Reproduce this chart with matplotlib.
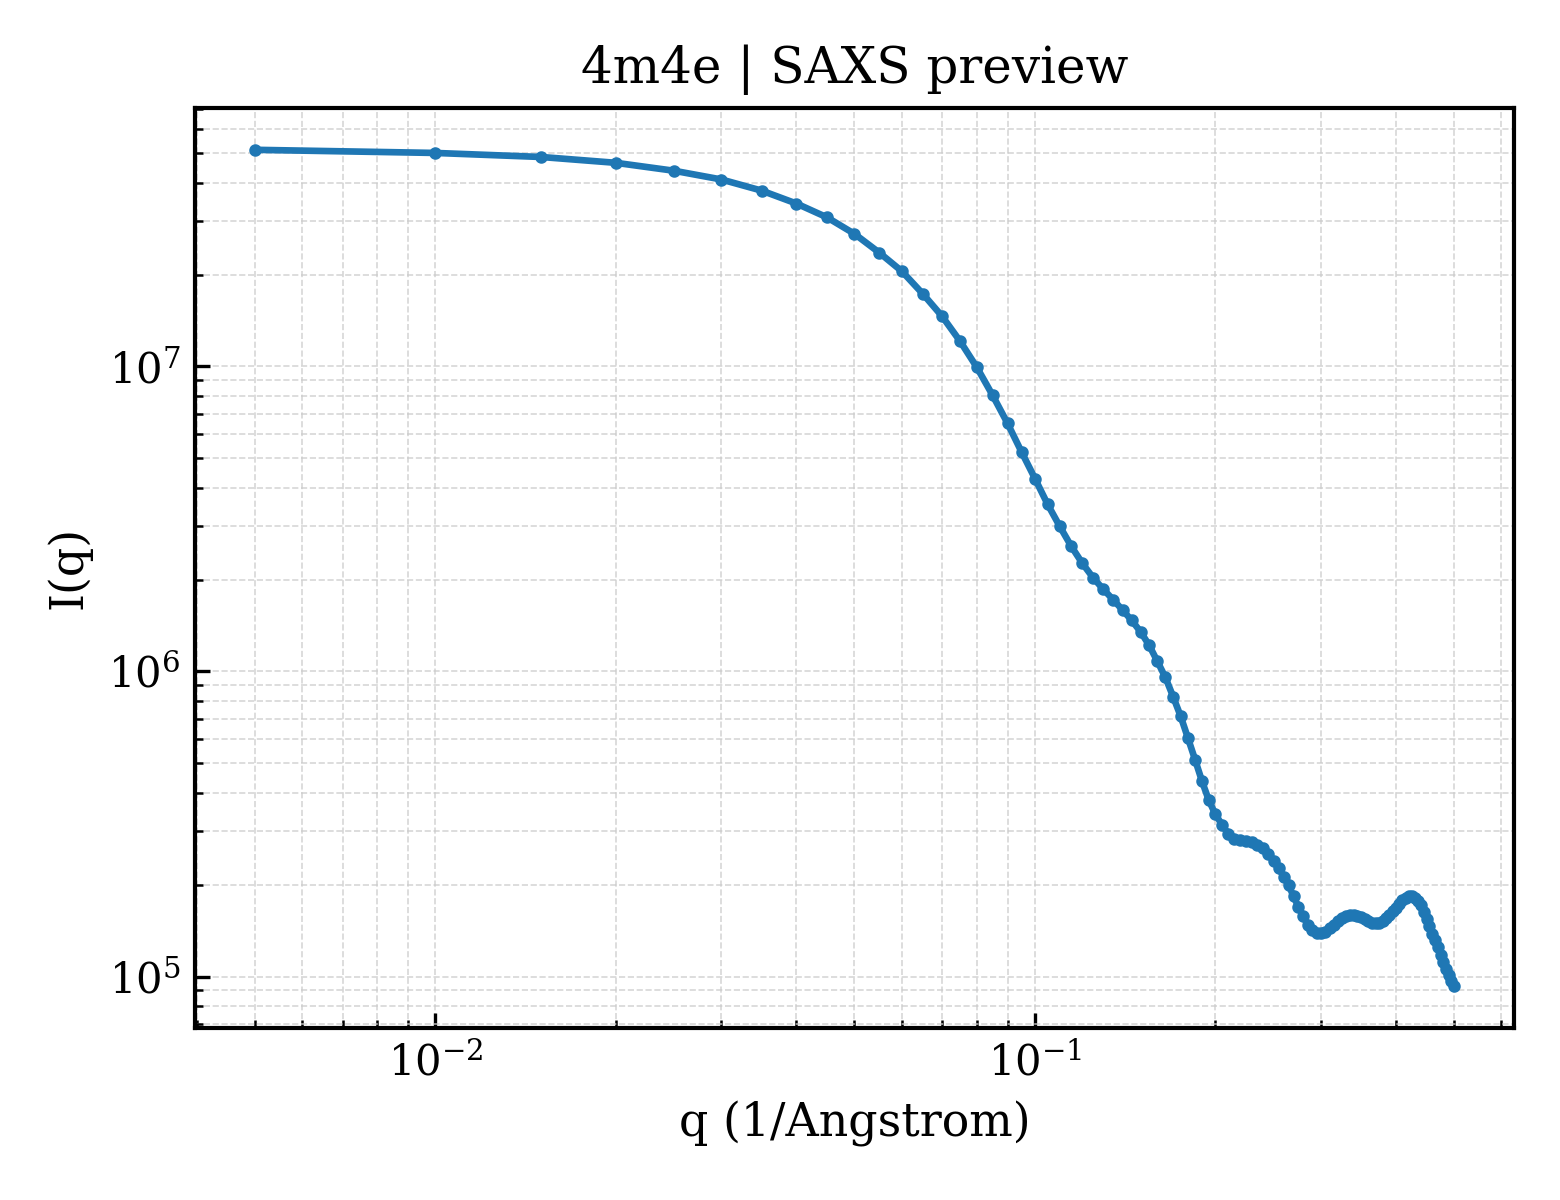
import numpy as np
import matplotlib
matplotlib.use("Agg")
import matplotlib.pyplot as plt

# scattering vector q (1/Angstrom), 0.005 to 0.5
q_values = [
    0.005, 0.010, 0.015, 0.020, 0.025, 0.030, 0.035, 0.040, 0.045, 0.050,
    0.055, 0.060, 0.065, 0.070, 0.075, 0.080, 0.085, 0.090, 0.095, 0.100,
    0.105, 0.110, 0.115, 0.120, 0.125, 0.130, 0.135, 0.140, 0.145, 0.150,
    0.155, 0.160, 0.165, 0.170, 0.175, 0.180, 0.185, 0.190, 0.195, 0.200,
    0.205, 0.210, 0.215, 0.220, 0.225, 0.230, 0.235, 0.240, 0.245, 0.250,
    0.255, 0.260, 0.265, 0.270, 0.275, 0.280, 0.285, 0.290, 0.295, 0.300,
    0.305, 0.310, 0.315, 0.320, 0.325, 0.330, 0.335, 0.340, 0.345, 0.350,
    0.355, 0.360, 0.365, 0.370, 0.375, 0.380, 0.385, 0.390, 0.395, 0.400,
    0.405, 0.410, 0.415, 0.420, 0.425, 0.430, 0.435, 0.440, 0.445, 0.450,
    0.455, 0.460, 0.465, 0.470, 0.475, 0.480, 0.485, 0.490, 0.495, 0.500,
]

# intensity I(q)
intensity = [
    5.13e7, 5.01e7, 4.86e7, 4.65e7, 4.38e7, 4.10e7, 3.77e7, 3.42e7, 3.08e7, 2.72e7,
    2.36e7, 2.05e7, 1.73e7, 1.46e7, 1.21e7, 9.93e6, 8.04e6, 6.51e6, 5.24e6, 4.29e6,
    3.53e6, 2.99e6, 2.57e6, 2.26e6, 2.03e6, 1.86e6, 1.72e6, 1.59e6, 1.47e6, 1.35e6,
    1.22e6, 1.08e6, 9.57e5, 8.27e5, 7.13e5, 6.04e5, 5.13e5, 4.36e5, 3.78e5, 3.40e5,
    3.15e5, 2.94e5, 2.83e5, 2.80e5, 2.78e5, 2.76e5, 2.70e5, 2.63e5, 2.53e5, 2.40e5,
    2.26e5, 2.125e5, 1.99e5, 1.83e5, 1.695e5, 1.58e5, 1.48e5, 1.42e5, 1.39e5, 1.388e5,
    1.40e5, 1.44e5, 1.48e5, 1.525e5, 1.56e5, 1.58e5, 1.59e5, 1.595e5, 1.58e5, 1.565e5,
    1.54e5, 1.52e5, 1.50e5, 1.497e5, 1.50e5, 1.52e5, 1.55e5, 1.59e5, 1.64e5, 1.68e5,
    1.73e5, 1.78e5, 1.81e5, 1.835e5, 1.835e5, 1.81e5, 1.77e5, 1.71e5, 1.63e5, 1.54e5,
    1.46e5, 1.38e5, 1.32e5, 1.25e5, 1.18e5, 1.115e5, 1.058e5, 1.011e5, 9.70e4, 9.31e4,
]

plt.rcParams['font.family'] = 'DejaVu Serif'
plt.rcParams['mathtext.fontset'] = 'dejavuserif'

fig, ax = plt.subplots(figsize=(5.2, 4.0), dpi=300)
fig.subplots_adjust(left=0.125, right=0.9705, top=0.91, bottom=0.1435)

ax.plot(q_values, intensity, color='#1f77b4', linewidth=1.6,
        marker='o', markersize=2.0)

ax.set_xscale('log')
ax.set_yscale('log')

ax.set_title('4m4e | SAXS preview', fontsize=12)
ax.set_xlabel('q (1/Angstrom)', fontsize=11)
ax.set_ylabel('I(q)', fontsize=11)

ax.grid(True, which='both', linestyle='--', linewidth=0.4, color='#cccccc', alpha=0.8)
ax.tick_params(which='both', direction='in', labelsize=10)
for spine in ax.spines.values():
    spine.set_linewidth(1.0)

fig.savefig('out.png', dpi=300)
